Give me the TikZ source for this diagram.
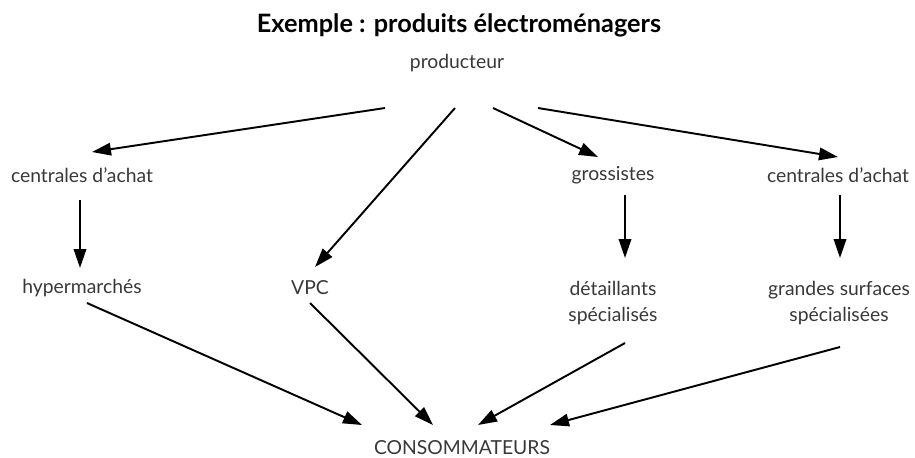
\documentclass[tikz,border=0pt]{standalone}
\usepackage{fontspec}
\setmainfont{Lato}
\usepackage{tikz}
\usetikzlibrary{calc}
\usetikzlibrary{arrows.meta}
\usepackage{xcolor}

\begin{document}
\begin{tikzpicture}[scale=1]
        % ================= styles =================
        \tikzset{
            lbl/.style={text=black!78, font=\fontsize{11}{15}\selectfont, inner sep=0pt, align=center},
            titre/.style={font=\fontsize{14.4}{17}\selectfont\bfseries, inner sep=0pt},
            arr/.style={line width=1.1pt, black, -{Triangle[length=3.8mm, width=2.5mm]}}
        }

        % cadre
        \useasboundingbox (0,0) rectangle (18.3,-9.14);

        % ================= noeuds =================
        \node[titre] (titre) at (9.18,-0.5) {Exemple : produits électroménagers};
        \node[lbl] (prod) at (9.14,-1.26) {producteur};

        % niveau 1
        \node[lbl] (ca1) at (1.64,-3.5) {centrales d'achat};
        \node[lbl] (gros) at (12.26,-3.5) {grossistes};
        \node[lbl] (ca2) at (16.76,-3.5) {centrales d'achat};

        % niveau 2
        \node[lbl] (hyper) at (1.64,-5.76) {hypermarchés};
        \node[lbl] (vpc) at (6.2,-5.76) {VPC};
        \node[lbl] (det) at (12.26,-6.06) {détaillants\\spécialisés};
        \node[lbl] (gs) at (16.78,-6.06) {grandes surfaces\\spécialisées};

        % bas
        \node[lbl] (conso) at (9.24,-8.96) {CONSOMMATEURS};

        % ================= flèches =================
        \draw[arr] ($(prod)+(-1.44,-0.9)$) -- ($(ca1)+(0.2,0.46)$);
        \draw[arr] ($(prod)+(-0.04,-0.9)$) -- ($(vpc)+(0.1,0.42)$);
        \draw[arr] ($(prod)+(0.72,-0.9)$) -- ($(gros)+(-0.3,0.36)$);
        \draw[arr] ($(prod)+(1.62,-0.9)$) -- ($(ca2)+(0,0.36)$);

        \draw[arr] ($(ca1)+(-0.04,-0.5)$) -- ($(hyper)+(-0.04,0.4)$);
        \draw[arr] ($(gros)+(0.24,-0.4)$) -- ($(det)+(0.24,0.9)$);
        \draw[arr] ($(ca2)+(0.04,-0.4)$) -- ($(gs)+(0.02,0.9)$);

        \draw[arr] ($(hyper)+(0.1,-0.3)$) -- ($(conso)+(-2.0,0.46)$);
        \draw[arr] ($(vpc)+(0,-0.3)$) -- ($(conso)+(-0.58,0.46)$);
        \draw[arr] ($(det)+(0.24,-0.8)$) -- ($(conso)+(0.32,0.46)$);
        \draw[arr] ($(gs)+(0.02,-0.88)$) -- ($(conso)+(1.76,0.46)$);

    \end{tikzpicture}
\end{document}
